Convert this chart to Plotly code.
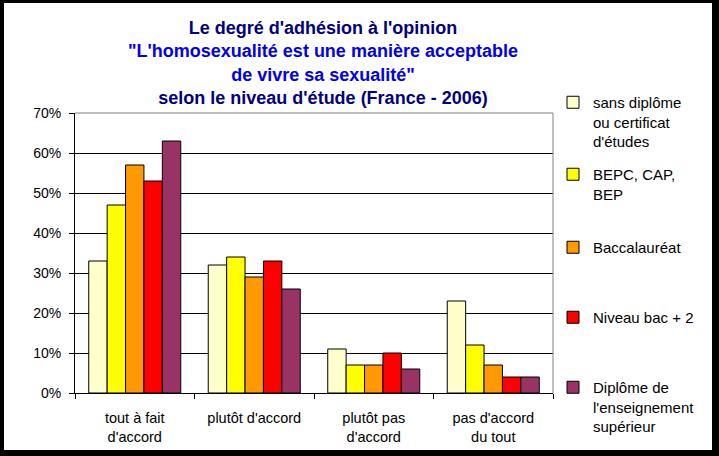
import plotly.graph_objects as go

categories = ["tout à fait<br>d'accord", "plutôt d'accord", "plutôt pas<br>d'accord", "pas d'accord<br>du tout"]
series_names = [
    "sans diplôme<br>ou certificat<br>d'études",
    "BEPC, CAP,<br>BEP",
    "Baccalauréat",
    "Niveau bac + 2",
    "Diplôme de<br>l'enseignement<br>supérieur",
]
sans_diplome = [0.33, 0.32, 0.11, 0.23]
bepc_cap_bep = [0.47, 0.34, 0.07, 0.12]
baccalaureat = [0.57, 0.29, 0.07, 0.07]
niveau_bac2 = [0.53, 0.33, 0.10, 0.04]
diplome_sup = [0.63, 0.26, 0.06, 0.04]
series_values = [sans_diplome, bepc_cap_bep, baccalaureat, niveau_bac2, diplome_sup]
colors = ["#FFFFCC", "#FFFF00", "#FF9900", "#FF0000", "#993366"]
y_ticks = [0, 0.1, 0.2, 0.3, 0.4, 0.5, 0.6, 0.7]

W, H = 719, 456
L, R, T, B = 75, 166, 113, 63
pw, ph = W - L - R, H - T - B

def px_x(x):
    return (x - L) / pw

def px_y(y):
    return 1 - (y - T) / ph

FONT = "Arial, Liberation Sans, sans-serif"

fig = go.Figure()
legend_tops = [86, 158, 231, 301, 371]
legend_names = ["legend2", "legend3", "legend4", "legend5", "legend6"]
for name, vals, col, lg in zip(series_names, series_values, colors, legend_names):
    fig.add_trace(go.Bar(
        x=categories, y=vals, name=name,
        marker=dict(color=col, line=dict(color="black", width=1)),
        legend=lg,
    ))

layout_legends = {}
for lg, top in zip(legend_names, legend_tops):
    layout_legends[lg] = dict(
        x=px_x(553), xanchor="left", y=px_y(top), yanchor="top",
        xref="paper", yref="paper",
        font=dict(family=FONT, size=15, color="black"),
        bgcolor="rgba(0,0,0,0)", borderwidth=0,
        itemwidth=30, valign="top", itemclick=False,
    )

title_text = (
    "<b><span style='color:#000080'>Le degré d'adhésion à l'opinion</span><br>"
    "<span style='color:#0000EE'>\"L'homosexualité est une manière acceptable</span><br>"
    "<span style='color:#0000EE'>de vivre sa sexualité\"</span><br>"
    "<span style='color:#000080'>selon le niveau d'étude (France - 2006)</span></b>"
)

fig.update_layout(
    width=W, height=H,
    margin=dict(l=L, r=R, t=T, b=B, pad=0),
    paper_bgcolor="black",
    plot_bgcolor="white",
    barmode="group", bargap=0.23, bargroupgap=0,
    font=dict(family=FONT, size=14, color="black"),
    showlegend=True,
    title=dict(
        text=title_text, x=323 / W, xanchor="center", xref="container",
        y=1 - 34 / H, yanchor="top", yref="container",
        font=dict(family=FONT, size=18),
    ),
    xaxis=dict(
        showline=True, linecolor="black", linewidth=1,
        ticks="outside", tickson="boundaries", ticklen=5, tickcolor="black",
        showgrid=False, tickfont=dict(size=14.5), ticklabelstandoff=12,
    ),
    yaxis=dict(
        range=[0, 0.7], tickvals=y_ticks, tickformat=".0%",
        showline=True, linecolor="black", linewidth=1,
        ticks="outside", ticklen=5, tickcolor="black",
        showgrid=True, gridcolor="black", gridwidth=1, zeroline=False,
        ticklabelstandoff=5, tickfont=dict(size=14),
    ),
    shapes=[
        dict(type="rect", xref="paper", yref="paper",
             x0=px_x(4), x1=px_x(712), y0=px_y(450), y1=px_y(3),
             fillcolor="white", line=dict(width=0), layer="below"),
        dict(type="line", xref="paper", yref="paper", x0=0, x1=1, y0=1, y1=1,
             line=dict(color="#808080", width=1)),
        dict(type="line", xref="paper", yref="paper", x0=1, x1=1, y0=0, y1=1,
             line=dict(color="#808080", width=1)),
    ],
    **layout_legends,
)

fig.write_html("out.html")
